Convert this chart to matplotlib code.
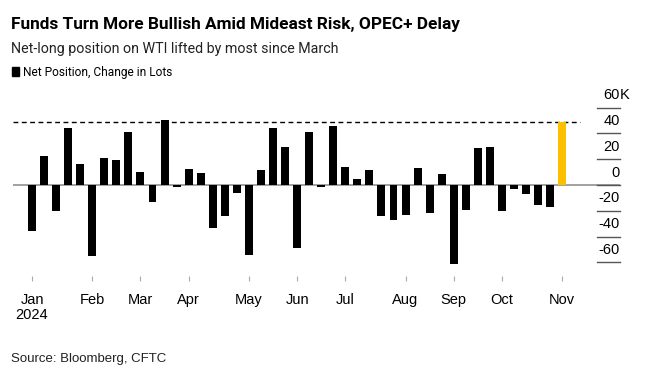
import numpy as np
import pandas as pd
import matplotlib
matplotlib.use("Agg")
import matplotlib.pyplot as plt
import matplotlib.transforms as mtransforms

# weekly change in WTI net position, thousand lots (CFTC, Tuesdays)
weeks = pd.date_range("2024-01-02", periods=45, freq="7D")
net_change = [
    -35.3, 22.2, -20.4, 44.4, 16.5, -54.8, 21.2, 19.1, 41.1, 9.8,
    -13.4, 50.6, -1.8, 12.4, 9.0, -33.6, -23.8, -6.5, -54.5, 11.6,
    43.9, 29.7, -48.8, 40.8, -1.5, 45.7, 13.7, 4.4, 11.4, -23.8,
    -26.9, -23.3, 12.9, -21.4, 8.3, -61.2, -19.4, 28.7, 29.2, -20.2,
    -3.4, -7.2, -15.5, -17.3, 48.8,
]
y_ticks = [60, 40, 20, 0, -20, -40, -60]

W, H = 645, 376
FONT = ["Liberation Sans", "DejaVu Sans"]
HEAD = ["Roboto", "Liberation Sans", "DejaVu Sans"]
plt.rcParams["font.family"] = FONT

fig = plt.figure(figsize=(W / 100, H / 100), dpi=100)
# axes placed in pixel terms: x 13..620, y 100..276
ax = fig.add_axes([13 / W, 1 - 276 / H, (620 - 13) / W, (276 - 100) / H])

x = np.arange(len(net_change))
colors = ["black"] * (len(net_change) - 1) + ["#fcc000"]
ax.bar(x, net_change, width=0.66, color=colors, zorder=3)

ax.set_xlim(-1.58, 48.8)
ax.set_ylim(-70.5, 65.9)

# zero line and dashed marker at latest reading
ax.axhline(0, color="#9a9a9a", lw=1.3, zorder=2)
ax.plot([-1.58, 45.5], [net_change[-1]] * 2, color="black", lw=1.0,
        ls=(0, (3.5, 2.5)), zorder=2)

# Bloomberg-style right-hand ticks: short line with label above
lbl_tr = mtransforms.offset_copy(ax.transData, fig=fig, x=0, y=12.5, units="dots")
for v in y_ticks:
    ax.plot([46.9, 48.8], [v, v], color="#555555", lw=1.0, zorder=2,
            clip_on=False)
    ax.text(48.8, v, f"{v}", ha="right", va="center", fontsize=10.5,
            transform=lbl_tr)
    if v == 60:
        ax.text(48.8, v, "K", ha="left", va="center", fontsize=10.5,
                transform=lbl_tr)

# month ticks at first week of each month
months = weeks.to_period("M")
tick_pos = [i for i in range(len(weeks)) if i == 0 or months[i] != months[i - 1]]
tick_lbl = [weeks[i].strftime("%b") for i in tick_pos]
tick_lbl[0] = "Jan\n2024"
ax.set_xticks(tick_pos)
ax.set_xticklabels(tick_lbl, fontsize=10.5, linespacing=1.1, va="top")
ax.tick_params(axis="x", length=3.5, width=0.8, color="#aaaaaa", pad=9,
               direction="out")
ax.set_yticks([])
for s in ax.spines.values():
    s.set_visible(False)


def px(xp, yp):
    return xp / W, 1 - yp / H


renderer = fig.canvas.get_renderer()


def fit_text(xp, yp, s, size, width, **kw):
    # shrink/grow the font so the text spans the same width as the original
    t = fig.text(*px(xp, yp), s, fontsize=size, va="baseline", **kw)
    w = t.get_window_extent(renderer).width
    t.set_fontsize(size * width / w)
    return t


fit_text(11, 29, "Funds Turn More Bullish Amid Mideast Risk, OPEC+ Delay",
         14, 451, fontweight="bold", family=HEAD)
fit_text(11, 53.3, "Net-long position on WTI lifted by most since March",
         11.5, 329, family=HEAD, color="#222222")
fig.patches.append(plt.Rectangle(px(12, 76), 7 / W, 9 / H, color="black",
                                 transform=fig.transFigure))
fit_text(23, 76, "Net Position, Change in Lots", 10, 150, family=HEAD)
fig.text(*px(11, 361.7), "Source: Bloomberg, CFTC", fontsize=9.5,
         va="baseline", color="#222222")

fig.savefig("out.png", dpi=100)
